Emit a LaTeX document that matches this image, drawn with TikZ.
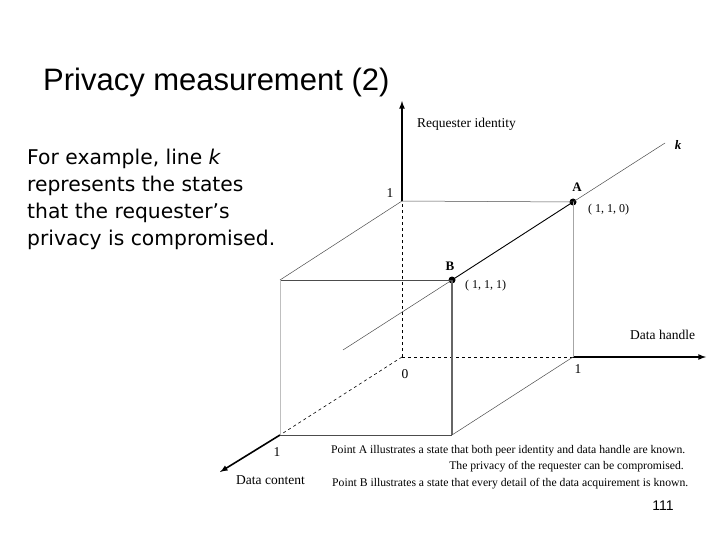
\documentclass[tikz,border=0pt]{standalone}
\usepackage{fontspec}
\setmainfont{Liberation Serif}
\newfontfamily\titlefont{Liberation Sans}
\newfontfamily\bodyfont{DejaVu Sans}
\begin{document}
\begin{tikzpicture}[x=1pt,y=-1pt,
  lbl/.style={inner sep=0pt,font=\fontsize{13.5}{15}\selectfont},
  thin gray/.style={draw=black!70,line width=0.5pt},
  axis/.style={line width=1.6pt,-latex},
  dot/.style={circle,fill=black,inner sep=0pt,minimum size=7pt}]
\useasboundingbox (0,0) rectangle (720,540);
\coordinate (O) at (402,357);
\coordinate (Y1) at (402,201);
\coordinate (Ytop) at (402,101);
\coordinate (X1) at (573,357);
\coordinate (Xend) at (706,357);
\coordinate (Z1) at (280,435);
\coordinate (Zend) at (220,472);
\coordinate (F) at (280,280);
\coordinate (G) at (452,435);
\coordinate (K0) at (343,350);
\coordinate (K1) at (665,143);
\node[dot] (A) at (573,202) {};
\node[dot] (B) at (452,280) {};
% axes
\draw[axis] (Y1) -- (Ytop);
\draw[axis] (X1) -- (Xend);
\draw[axis] (Z1) -- (Zend);
\draw[dashed,line width=0.6pt] (O) -- (Y1);
\draw[dashed,line width=0.6pt] (O) -- (X1);
\draw[dashed,line width=0.6pt] (O) -- (Z1);
% cube
\draw[thin gray] (Y1) -- (A.center);
\draw[draw=black!35,line width=0.5pt] (A.center) -- (X1);
\draw[thin gray] (F) -- (Y1);
\draw[thin gray] (F) -- (B.center);
\draw[draw=black!25,line width=0.5pt] (F) -- (Z1);
\draw[thin gray] (Z1) -- (G);
\draw[draw=black!60,line width=1.2pt] (B.center) -- (G);
\draw[thin gray] (G) -- (X1);
% line k
\draw[draw=black!70,line width=0.5pt] (K0) -- (B.center);
\draw[line width=0.9pt] (B.center) -- (A.center);
\draw[draw=black!70,line width=0.5pt] (A.center) -- (K1);
% labels
\node[lbl,anchor=west] (ly) at (417,124) {Requester identity};
\node[lbl] (y1) at (390,193) {1};
\node[lbl] (o0) at (405,374) {0};
\node[lbl] (x1) at (578,369) {1};
\node[lbl,anchor=west] (lx) at (630,335) {Data handle};
\node[lbl] (z1) at (277,452) {1};
\node[lbl,anchor=west] (lz) at (236,480) {Data content};
\node[lbl,font=\fontsize{13}{15}\selectfont\bfseries\itshape] (lk) at (678,145) {k};
\node[lbl,font=\fontsize{13}{15}\selectfont\bfseries] (la) at (577,187) {A};
\node[lbl,font=\fontsize{13}{15}\selectfont\bfseries] (lb) at (450,266) {B};
\node[lbl,anchor=west,font=\fontsize{12}{14}\selectfont] (ca) at (588,210) {( 1, 1, 0)};
\node[lbl,anchor=west,font=\fontsize{12}{14}\selectfont] (cb) at (465,286) {( 1, 1, 1)};
\node[lbl,anchor=west,font=\fontsize{11.7}{13}\selectfont] (n1) at (331,451) {Point A illustrates a state that both peer identity and data handle are known.};
\node[lbl,anchor=east,font=\fontsize{11.7}{13}\selectfont] (n2) at (684,467) {The privacy of the requester can be compromised.};
\node[lbl,anchor=west,font=\fontsize{11.7}{13}\selectfont] (n3) at (332,484) {Point B illustrates a state that every detail of the data acquirement is known.};
\node[inner sep=0pt,font=\titlefont\fontsize{14}{16}\selectfont] (pg) at (663,506) {111};
\node[inner sep=0pt,anchor=west,font=\titlefont\fontsize{31}{34}\selectfont] (title) at (43,82) {Privacy measurement (2)};
\node[inner sep=0pt,anchor=north west,align=left,font=\bodyfont\fontsize{20.3}{27}\selectfont] (body) at (27,149)
 {For example, line \textit{k}\\represents the states\\that the requester’s\\privacy is compromised.};
\end{tikzpicture}
\end{document}
